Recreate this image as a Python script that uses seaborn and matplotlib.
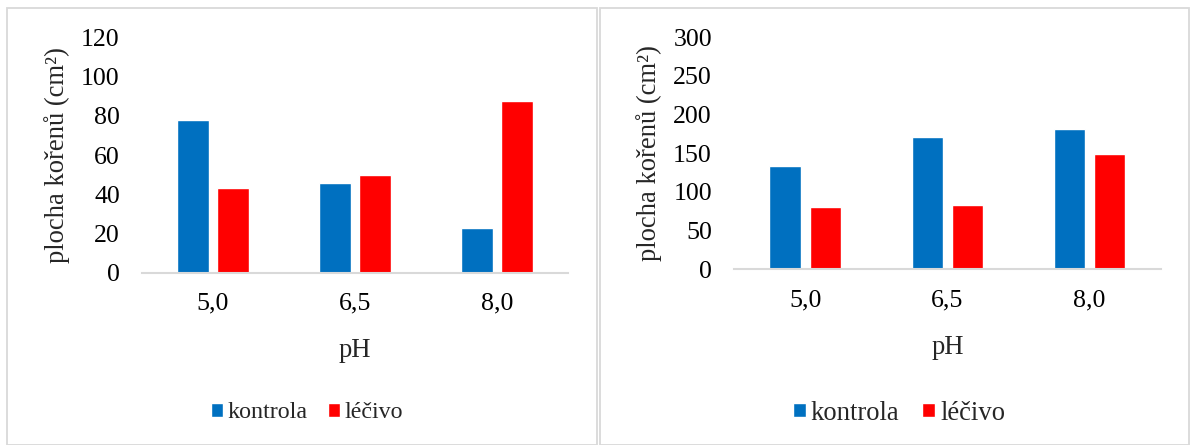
import matplotlib
matplotlib.use("Agg")
import matplotlib.pyplot as plt
import seaborn as sns
import pandas as pd
from matplotlib.patches import Rectangle

# ---- data ----
ph_labels = ["5,0", "6,5", "8,0"]
series_names = ["kontrola", "léčivo"]
left_kontrola = [78, 45.7, 22.8]
left_lecivo = [43, 49.8, 87.4]
right_kontrola = [133, 171.5, 182]
right_lecivo = [80.5, 83, 149.5]
left_yticks = [0, 20, 40, 60, 80, 100, 120]
right_yticks = [0, 50, 100, 150, 200, 250, 300]

colors = {"kontrola": "#0070C0", "léčivo": "#FF0000"}

sns.set_theme(style="white")
plt.rcParams["font.family"] = ["Liberation Serif", "DejaVu Serif"]

def make_df(k, l):
    return pd.DataFrame({
        "pH": ph_labels * 2,
        "series": [series_names[0]] * 3 + [series_names[1]] * 3,
        "value": list(k) + list(l),
    })

W, H = 1192, 445
fig = plt.figure(figsize=(W / 100, H / 100), dpi=100)

# panel borders
for (x0, x1) in [(6.5, 597), (599.5, 1188.5)]:
    fig.patches.append(Rectangle((x0 / W, 0), (x1 - x0) / W, 1 - 8 / H,
                                 transform=fig.transFigure, fill=False,
                                 edgecolor="#d9d9d9", linewidth=1.3, zorder=0))

specs = [
    dict(rect=[142 / W, 1 - 272.7 / H, 426 / W, (272.7 - 37.3) / H],
         k=left_kontrola, l=left_lecivo, yt=left_yticks, legc=307, legfs=17.3),
    dict(rect=[734.2 / W, 1 - 269.3 / H, 426.5 / W, (269.3 - 37.3) / H],
         k=right_kontrola, l=right_lecivo, yt=right_yticks, legc=899, legfs=19.2),
]

for s in specs:
    ax = fig.add_axes(s["rect"])
    df = make_df(s["k"], s["l"])
    sns.barplot(data=df, x="pH", y="value", hue="series", palette=colors,
                width=0.565, gap=0.215, ax=ax, legend=True, saturation=1)
    ax.set_ylim(s["yt"][0], s["yt"][-1])
    ax.set_yticks(s["yt"])
    ax.set_xlim(-0.5, 2.5)
    for side in ["top", "right", "left"]:
        ax.spines[side].set_visible(False)
    ax.spines["bottom"].set_color("#d9d9d9")
    ax.spines["bottom"].set_linewidth(1.5)
    ax.tick_params(axis="both", length=0, labelsize=18.6, colors="black")
    ax.tick_params(axis="y", pad=16)
    ax.tick_params(axis="x", pad=14.5)
    ax.set_xlabel("pH", fontsize=19.2, labelpad=17)
    ax.set_ylabel("plocha kořenů (cm²)", fontsize=19.2, labelpad=8)
    ax.grid(False)
    handles, labels = ax.get_legend_handles_labels()
    ax.get_legend().remove()
    fig.legend(handles, labels, loc="center", bbox_to_anchor=(s["legc"] / W, 1 - 413 / H),
               ncol=2, frameon=False, fontsize=s["legfs"], handlelength=0.48,
               handleheight=0.48, handletextpad=0.2, columnspacing=0.85,
               borderpad=0, borderaxespad=0)

fig.savefig("out.png", dpi=100)
